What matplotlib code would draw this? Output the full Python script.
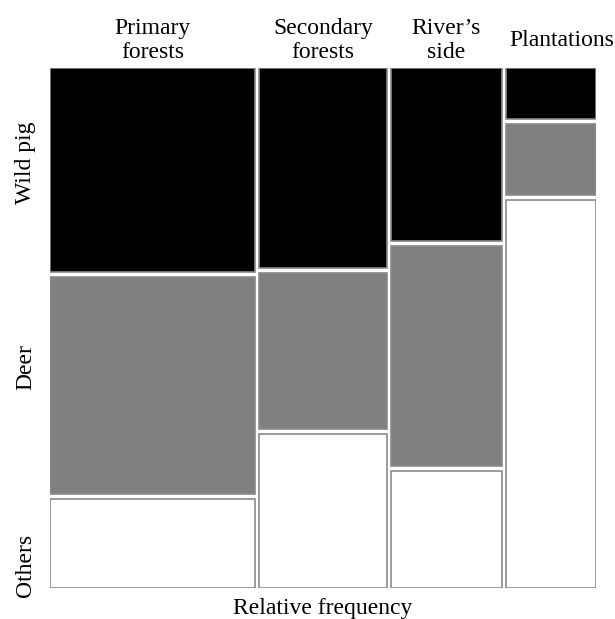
import numpy as np
import matplotlib.pyplot as plt

# habitat columns (width = share of records) and species shares within each habitat
habitats = ["Primary\nforests", "Secondary\nforests", "River\u2019s\nside", "Plantations"]
col_share = [0.386, 0.240, 0.208, 0.170]
wild_pig = [0.400, 0.392, 0.340, 0.100]
deer = [0.425, 0.306, 0.430, 0.140]
others = [0.175, 0.302, 0.230, 0.760]

species = ["Others", "Deer", "Wild pig"]
colors = ["#ffffff", "#808080", "#000000"]

plt.rcParams['font.family'] = ['Liberation Serif', 'DejaVu Serif']

fig = plt.figure(figsize=(6.15, 6.19), dpi=100)
ax = fig.add_axes([50 / 615, 31 / 619, 546 / 615, 520 / 619])

gap_x = 4 / 546
gap_y = 5 / 520

widths = np.array(col_share) / np.sum(col_share) * (1 - gap_x * (len(habitats) - 1))
lefts = np.concatenate([[0], np.cumsum(widths + gap_x)[:-1]])

shares = np.array([others, deer, wild_pig])
shares = shares / shares.sum(axis=0)
heights = shares * (1 - gap_y * (len(species) - 1))
bottoms = np.zeros_like(heights)
for k in range(1, len(species)):
    bottoms[k] = bottoms[k - 1] + heights[k - 1] + gap_y

for k in range(len(species)):
    ax.bar(lefts, heights[k], width=widths, bottom=bottoms[k], align='edge',
           color=colors[k], edgecolor='#8a8a8a', linewidth=1.2)

for i, lab in enumerate(habitats):
    xc = lefts[i] + widths[i] / 2
    yy = 1.01
    if i == len(habitats) - 1:
        xc += 0.02
        yy = 1.032
    ax.text(xc, yy, lab, ha='center', va='bottom', fontsize=17,
            linespacing=1.15, transform=ax.transData, clip_on=False)

row_y = [(588 - 565) / 520, (588 - 367) / 520, (588 - 163) / 520]
for lab, yy in zip(species, row_y):
    ax.text(-0.045, yy, lab, rotation=90, ha='center', va='center', fontsize=17,
            transform=ax.transAxes)

ax.text(0.5, -0.02, "Relative frequency", ha='center', va='top', fontsize=17,
        transform=ax.transAxes)

ax.set_xlim(0, 1)
ax.set_ylim(0, 1)
ax.axis('off')

plt.savefig('out.png', dpi=100)
